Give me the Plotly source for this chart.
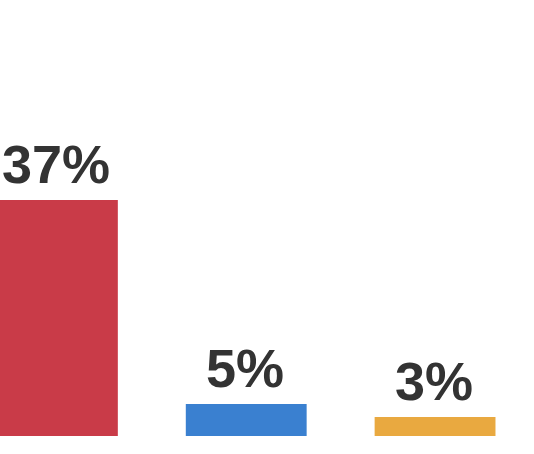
import plotly.graph_objects as go

categories = ["A", "B", "C"]
values = [37, 5, 3]
labels = ["37%", "5%", "3%"]
colors = ["#C93B48", "#3A80D0", "#E9A940"]

x_pos = list(range(len(categories)))

fig = go.Figure(
    go.Bar(
        x=x_pos,
        y=values,
        width=0.64,
        marker=dict(color=colors, line=dict(width=0)),
        cliponaxis=False,
        hoverinfo="skip",
    )
)

for xi, v, lab in zip(x_pos, values, labels):
    fig.add_annotation(
        x=xi,
        y=v,
        text=lab,
        showarrow=False,
        xanchor="center",
        yanchor="bottom",
        yshift=4,
        xshift=-1,
        font=dict(family="Liberation Sans, Arial, sans-serif", size=54, color="#333333", weight="bold"),
    )

fig.update_layout(
    width=534,
    height=454,
    margin=dict(l=0, r=0, t=0, b=0),
    paper_bgcolor="white",
    plot_bgcolor="white",
    showlegend=False,
    xaxis=dict(range=[-0.304, 2.524], visible=False, fixedrange=True),
    yaxis=dict(range=[-2.82, 68.36], visible=False, fixedrange=True),
)

fig.write_html(
    "out.html",
    config={"displayModeBar": False},
    post_script="document.body.style.margin='0';document.body.style.overflow='hidden';",
)
